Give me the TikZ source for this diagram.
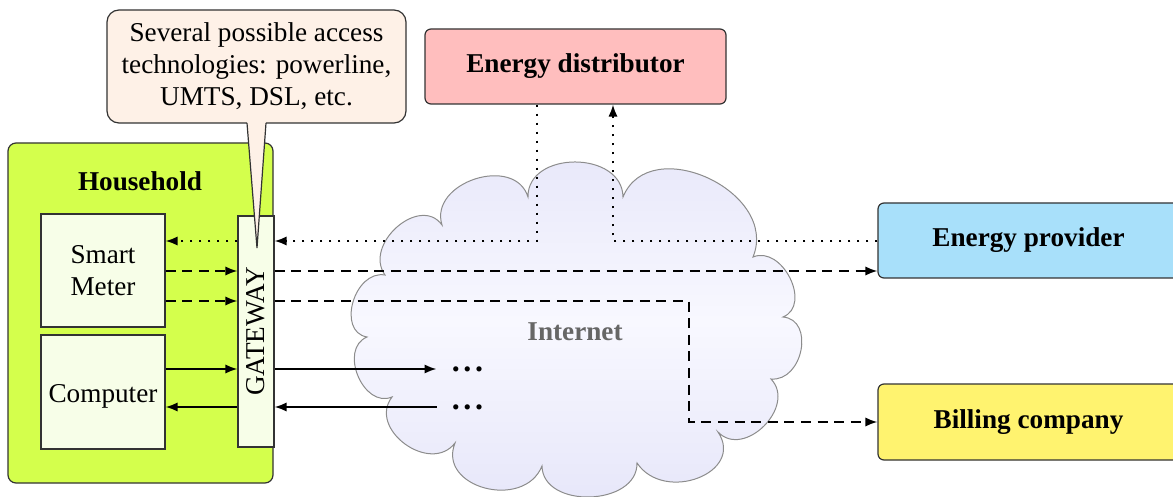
\documentclass[tikz,border=0pt]{standalone}
\usepackage{fontspec}
\setmainfont{Liberation Serif}
\usetikzlibrary{arrows.meta}

\definecolor{hhgreen}{RGB}{212,255,76}
\definecolor{devfill}{RGB}{247,254,232}
\definecolor{notefill}{RGB}{254,241,231}
\definecolor{distfill}{RGB}{255,190,190}
\definecolor{provfill}{RGB}{168,224,250}
\definecolor{billfill}{RGB}{255,243,111}
\definecolor{cloudedge}{RGB}{140,140,140}
\definecolor{cloudtop}{RGB}{230,230,249}
\definecolor{cloudmid}{RGB}{248,248,255}
\definecolor{nettext}{RGB}{102,102,102}

\begin{document}
\begin{tikzpicture}[x=0.5pt,y=-0.5pt,
  font=\fontsize{13.6}{16}\selectfont,
  box/.style={draw=black!80, line width=0.6pt, inner sep=0pt, align=center},
  party/.style={box, rounded corners=3pt, minimum width=150.5pt, font=\fontsize{13.6}{16}\selectfont\bfseries},
  conn/.style={line width=0.9pt},
  tip/.style={-{Latex[length=6pt,width=4.6pt]}},
  dotline/.style={conn, dash pattern=on 1.1pt off 3.4pt},
  dashline/.style={conn, dash pattern=on 5pt off 3.3pt},
  solidline/.style={conn},
  moredots/.style={inner sep=0pt, font=\fontsize{16}{16}\selectfont\bfseries}]

\useasboundingbox (0,0) rectangle (1173,497);

% helper levels for the horizontal links
\coordinate (yA) at (0,241);
\coordinate (yB) at (0,271);
\coordinate (yC) at (0,301);
\coordinate (yD) at (0,369);
\coordinate (yE) at (0,407);
\coordinate (xA) at (537,0);
\coordinate (xB) at (613,0);
\coordinate (xC) at (689,0);

% the Internet cloud, one puff per Bezier segment
\shadedraw[draw=cloudedge, line width=0.5pt,
           top color=cloudtop, bottom color=cloudtop, middle color=cloudmid]
  (528,197)
  .. controls (527.3,150.3) and (622.3,150.3) .. (623,197)
  .. controls (649.7,131.7) and (779.7,191.7) .. (753,257)
  .. controls (782.3,245) and (812.3,305) .. (783,317)
  .. controls (815,319.7) and (803,381.7) .. (771,379)
  .. controls (797,406.3) and (744,459.3) .. (718,432)
  .. controls (745.3,472.7) and (664.3,503.7) .. (637,463)
  .. controls (637.7,506.3) and (542.7,509.3) .. (542,466)
  .. controls (524,510.7) and (437,487.7) .. (455,443)
  .. controls (430.3,475) and (367.3,429) .. (392,397)
  .. controls (363.3,409) and (338.3,349) .. (367,337)
  .. controls (336.3,331.7) and (354.3,269.7) .. (385,275)
  .. controls (363,244.3) and (420,194.3) .. (442,225)
  .. controls (428.7,182.3) and (514.7,154.3) .. (528,197)
  -- cycle;
\node[font=\fontsize{13.6}{16}\selectfont\bfseries, text=nettext] (net) at (575,332) {Internet};

% household
\node[box, fill=hhgreen, rounded corners=4pt, minimum width=132.5pt, minimum height=170pt]
     (hh) at (140.5,313) {};
\node[font=\fontsize{13.6}{16}\selectfont\bfseries] (hhtxt) at (140,181) {Household};
\node[box, fill=devfill, minimum width=62pt, minimum height=56.5pt] (sm) at (103,270.5) {Smart\\Meter};
\node[box, fill=devfill, minimum width=62pt, minimum height=57pt] (cp) at (103,392) {};
\node[inner sep=0pt] (cptxt) at (103,396) {Computer};
\node[box, fill=devfill, minimum width=18pt, minimum height=115.5pt] (gw) at (256,331.5) {};
\node[rotate=90, inner sep=0pt] (gwtxt) at (gw.center) {GATEWAY};

% external parties
\node[party, fill=distfill, minimum height=37.5pt] (ed) at (575.5,66.5) {Energy distributor};
\node[party, fill=provfill, minimum height=37.5pt] (ep) at (1028.5,240.5) {Energy provider};
\node[party, fill=billfill, minimum height=38pt] (bc) at (1028.5,422) {Billing company};

% continuation marks
\node[moredots] (d1) at (467.5,369) {.\kern1.8pt.\kern1.8pt.};
\node[moredots] (d2) at (467.5,407) {.\kern1.8pt.\kern1.8pt.};

% control messages (dotted)
\draw[dotline, tip] (gw.west |- yA) -- (sm.east |- yA);
\draw[dotline, tip] (xA |- ed.south) |- (gw.east |- yA);
\draw[dotline, tip] (ep.west |- yA) -| (xB |- ed.south);

% metering data (dashed)
\draw[dashline, tip] (sm.east |- yB) -- (gw.west |- yB);
\draw[dashline, tip] (sm.east |- yC) -- (gw.west |- yC);
\draw[dashline, tip] (gw.east |- yB) -- (ep.west |- yB);
\draw[dashline, tip] (gw.east |- yC) -| (xC |- bc.west) -- (bc.west);

% ordinary traffic (solid)
\draw[solidline, tip] (cp.east |- yD) -- (gw.west |- yD);
\draw[solidline, tip] (gw.west |- yE) -- (cp.east |- yE);
\draw[solidline, tip] (gw.east |- yD) -- ([xshift=-7.5pt]d1.west);
\draw[solidline, tip] ([xshift=-7.5pt]d2.west) -- (gw.east |- yE);

% speech bubble
\node[box, fill=notefill, rounded corners=6pt, minimum width=149.5pt, minimum height=56.5pt]
     (note) at (256.5,66.5) {Several possible access\\technologies: powerline,\\UMTS, DSL, etc.};
\coordinate (notetip) at (257,248);
\fill[notefill] (247,121) -- (notetip) -- (266,121) -- cycle;
\draw[black!80, line width=0.6pt, line join=miter] (247,123) -- (notetip) -- (266,123);

\end{tikzpicture}
\end{document}
